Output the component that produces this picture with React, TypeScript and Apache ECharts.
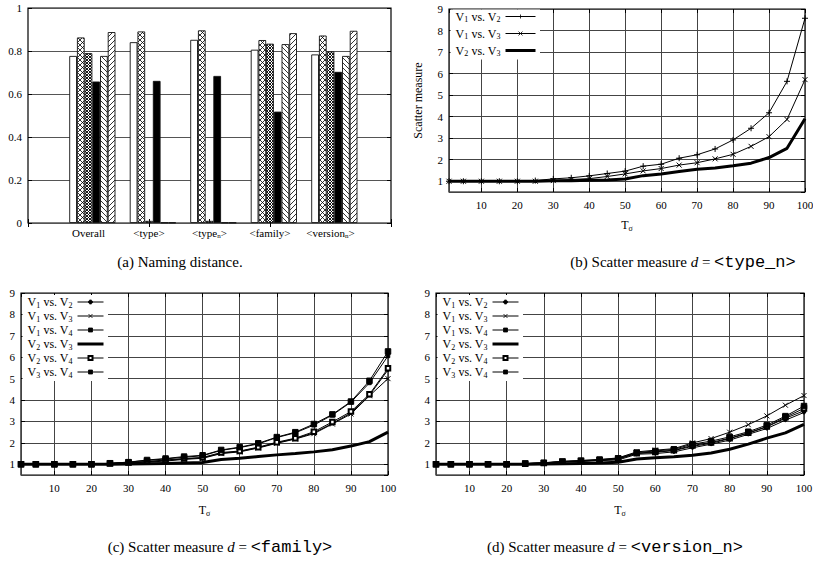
import React, { useEffect, useRef } from 'react';
import * as echarts from 'echarts';

// ---------- data: (a) naming distance ----------
const BAR_CATEGORIES = ['', 'Overall', '<type>', '<type_n>', '<family>', '<version_n>', ''];
const BAR_PLAIN = [null, 0.777, 0.841, 0.852, 0.806, 0.784, null];
const BAR_CROSS = [null, 0.863, 0.891, 0.896, 0.851, 0.872, null];
const BAR_DENSE = [null, 0.79, 0.01, 0.01, 0.834, 0.798, null];
const BAR_SOLID = [null, 0.658, 0.661, 0.684, 0.518, 0.703, null];
const BAR_BACK = [null, 0.777, 0.002, 0.002, 0.832, 0.777, null];
const BAR_FWD = [null, 0.888, 0.002, 0.002, 0.883, 0.894, null];

// ---------- data: scatter measures ----------
const XS = [1, 5, 10, 15, 20, 25, 30, 35, 40, 45, 50, 55, 60, 65, 70, 75, 80, 85, 90, 95, 100];

const B_V1V2 = [1, 1, 1, 1, 1, 1.03, 1.11, 1.16, 1.25, 1.36, 1.47, 1.7, 1.79, 2.07, 2.23, 2.5, 2.92, 3.46, 4.18, 5.64, 8.57];
const B_V1V3 = [1, 1, 1, 1, 1, 1.0, 1.03, 1.08, 1.12, 1.22, 1.34, 1.48, 1.59, 1.75, 1.86, 2.04, 2.25, 2.62, 3.07, 3.87, 5.72];
const B_V2V3 = [1, 1, 1, 1, 1, 1, 1.02, 1.02, 1.05, 1.06, 1.1, 1.26, 1.34, 1.45, 1.56, 1.61, 1.72, 1.84, 2.1, 2.53, 3.9];

const C_V1V2 = [1, 1, 1, 1, 1, 1.03, 1.07, 1.12, 1.18, 1.25, 1.3, 1.52, 1.6, 1.78, 2.0, 2.2, 2.47, 2.91, 3.4, 4.22, 5.41];
const C_V1V3 = [1, 1, 1, 1, 1, 1.03, 1.06, 1.1, 1.15, 1.23, 1.28, 1.5, 1.58, 1.76, 1.98, 2.18, 2.43, 2.88, 3.35, 4.2, 5.0];
const C_V1V4 = [1, 1, 1, 1, 1, 1.04, 1.1, 1.18, 1.25, 1.33, 1.4, 1.65, 1.78, 1.95, 2.25, 2.47, 2.83, 3.3, 3.9, 4.8, 6.06];
const C_V2V3 = [1, 1, 1, 1, 1, 1, 1.01, 1.02, 1.04, 1.06, 1.08, 1.22, 1.28, 1.36, 1.44, 1.5, 1.58, 1.68, 1.85, 2.06, 2.5];
const C_V2V4 = [1, 1, 1, 1, 1, 1.04, 1.08, 1.13, 1.2, 1.27, 1.32, 1.55, 1.62, 1.8, 2.03, 2.22, 2.52, 2.98, 3.46, 4.27, 5.48];
const C_V3V4 = [1, 1, 1, 1, 1, 1.05, 1.1, 1.2, 1.27, 1.36, 1.42, 1.67, 1.8, 1.98, 2.27, 2.5, 2.88, 3.33, 3.93, 4.9, 6.27];

const D_V1V2 = [1, 1, 1, 1, 1, 1.03, 1.05, 1.1, 1.13, 1.17, 1.2, 1.47, 1.5, 1.58, 1.77, 1.94, 2.13, 2.4, 2.67, 3.06, 3.42];
const D_V1V3 = [1, 1, 1, 1, 1, 1.03, 1.07, 1.14, 1.18, 1.22, 1.3, 1.58, 1.66, 1.73, 2.0, 2.2, 2.5, 2.85, 3.26, 3.76, 4.21];
const D_V1V4 = [1, 1, 1, 1, 1, 1.03, 1.06, 1.12, 1.15, 1.2, 1.25, 1.5, 1.56, 1.64, 1.84, 1.98, 2.2, 2.45, 2.75, 3.15, 3.5];
const D_V2V3 = [1, 1, 1, 1, 1, 1, 1.01, 1.02, 1.04, 1.06, 1.1, 1.25, 1.3, 1.35, 1.42, 1.53, 1.7, 1.94, 2.22, 2.47, 2.86];
const D_V2V4 = [1, 1, 1, 1, 1, 1.03, 1.06, 1.12, 1.15, 1.2, 1.25, 1.52, 1.58, 1.66, 1.88, 2.02, 2.22, 2.47, 2.76, 3.2, 3.61];
const D_V3V4 = [1, 1, 1, 1, 1, 1.04, 1.07, 1.13, 1.17, 1.22, 1.28, 1.55, 1.62, 1.7, 1.94, 2.08, 2.28, 2.52, 2.83, 3.25, 3.72];

const PAIRS_B = ['V1 vs. V2', 'V1 vs. V3', 'V2 vs. V3'];
const PAIRS_CD = ['V1 vs. V2', 'V1 vs. V3', 'V1 vs. V4', 'V2 vs. V3', 'V2 vs. V4', 'V3 vs. V4'];

const CAPTIONS = [
  '{t|(a) Naming distance.}',
  '{t|(b) Scatter measure }{i|d}{t| = }{m|<type_n>}',
  '{t|(c) Scatter measure }{i|d}{t| = }{m|<family>}',
  '{t|(d) Scatter measure }{i|d}{t| = }{m|<version_n>}',
];

const SERIF = "'Liberation Serif', 'Times New Roman', serif";
const MONO = "'Liberation Mono', 'DejaVu Sans Mono', monospace";
const BLACK = '#000';
const THICK_PAIR = 'V2 vs. V3';

const SYMBOLS: Record<string, { symbol: string; size: number }> = {
  plus: { symbol: 'path://M0,5L10,5M5,0L5,10', size: 6 },
  cross: { symbol: 'path://M0,0L10,10M10,0L0,10', size: 5 },
  dot: { symbol: 'circle', size: 3 },
  smallsq: { symbol: 'rect', size: 3.5 },
  opensq: { symbol: 'emptyRect', size: 4.5 },
  bigsq: { symbol: 'rect', size: 5.5 },
  none: { symbol: 'path://M0,0L10,10', size: 0 },
};

function makeHatch(kind: string) {
  const s = kind === 'dense' ? 3 : 5;
  const c = document.createElement('canvas');
  c.width = s;
  c.height = s;
  const g = c.getContext('2d') as CanvasRenderingContext2D;
  g.fillStyle = '#fff';
  g.fillRect(0, 0, s, s);
  g.strokeStyle = '#000';
  g.lineWidth = kind === 'dense' ? 0.9 : 0.8;
  g.beginPath();
  const back = () => {
    g.moveTo(-1, -1); g.lineTo(s + 1, s + 1);
    g.moveTo(-1, s - 1); g.lineTo(1, s + 1);
    g.moveTo(s - 1, -1); g.lineTo(s + 1, 1);
  };
  const fwd = () => {
    g.moveTo(-1, s + 1); g.lineTo(s + 1, -1);
    g.moveTo(-1, 1); g.lineTo(1, -1);
    g.moveTo(s - 1, s + 1); g.lineTo(s + 1, s - 1);
  };
  if (kind === 'cross' || kind === 'dense') { back(); fwd(); }
  if (kind === 'back') back();
  if (kind === 'fwd') fwd();
  g.stroke();
  return { image: c, repeat: 'repeat', imageWidth: s, imageHeight: s };
}

const subStyle = (size: number, pad: number) => ({ fontSize: size, fontFamily: SERIF, color: BLACK, padding: [pad, 0, 0, 0] });

function valueXAxis(gridIndex: number, top: boolean, nameGap: number) {
  return {
    type: 'value', gridIndex, min: 1, max: 100, minInterval: 10, maxInterval: 10,
    position: top ? 'top' : 'bottom',
    axisLine: { show: false },
    axisTick: { show: true, inside: true, length: 4, lineStyle: { color: BLACK, width: 1 } },
    axisLabel: top ? { show: false } : { color: BLACK, fontFamily: SERIF, fontSize: 11, margin: 7, showMinLabel: false, showMaxLabel: true },
    splitLine: top ? { show: false } : { show: true, lineStyle: { color: '#444', width: 1 } },
    name: top ? '' : 'T{s|σ}',
    nameLocation: 'middle',
    nameGap,
    nameTextStyle: { color: BLACK, fontFamily: SERIF, fontSize: 12, rich: { s: subStyle(8, 6) } },
  };
}

function valueYAxis(gridIndex: number, right: boolean, name?: string) {
  return {
    type: 'value', gridIndex, min: 0.5, max: 9, minInterval: 1, maxInterval: 1,
    position: right ? 'right' : 'left',
    axisLine: { show: false },
    axisTick: { show: true, inside: true, length: 4, lineStyle: { color: BLACK, width: 1 } },
    axisLabel: right ? { show: false } : { color: BLACK, fontFamily: SERIF, fontSize: 11, margin: 6, showMinLabel: false },
    splitLine: right ? { show: false } : { show: true, lineStyle: { color: '#444', width: 1 } },
    name: name || '',
    nameLocation: 'middle',
    nameGap: 25,
    nameTextStyle: { color: BLACK, fontFamily: SERIF, fontSize: 12 },
  };
}

function lineSeries(prefix: string, pair: string, values: number[], marker: string, axisIndex: number) {
  const sym = SYMBOLS[marker];
  const thick = marker === 'none';
  return {
    type: 'line',
    name: prefix + pair,
    xAxisIndex: axisIndex,
    yAxisIndex: axisIndex,
    data: XS.map((x, i) => [x, values[i]]),
    symbol: sym.symbol,
    symbolSize: sym.size,
    showSymbol: !thick,
    lineStyle: { color: BLACK, width: thick ? 3 : 1 },
    itemStyle: { color: BLACK, borderColor: BLACK, borderWidth: thick ? 0 : 1, opacity: thick ? 0 : 1 },
    z: thick ? 3 : 4,
  };
}

function legendFor(prefix: string, pairs: string[], left: number, top: number, itemGap: number, itemWidth: number) {
  return {
    data: pairs.map((p) => ({
      name: prefix + p,
      lineStyle: { width: p === THICK_PAIR ? 3 : 1, color: BLACK },
    })),
    orient: 'vertical',
    align: 'right',
    left, top,
    itemWidth,
    itemHeight: 5,
    itemGap,
    padding: [0, 3, 2, 5],
    backgroundColor: '#fff',
    selectedMode: false,
    itemStyle: { borderWidth: 0.8 },
    formatter: (n: string) => n.replace(/^\(\w\) /, '').replace(/V(\d)/g, 'V{s|$1}'),
    textStyle: { color: BLACK, fontFamily: SERIF, fontSize: 12, lineHeight: 13, rich: { s: { ...subStyle(8, 6), lineHeight: 13 } } },
  };
}

export default function App() {
  const ref = useRef<HTMLDivElement>(null);
  useEffect(() => {
    if (!ref.current) return;
    const chart = echarts.init(ref.current, undefined, { renderer: 'svg' });

    const barDefs = [
      { data: BAR_PLAIN, fill: '#fff' as any },
      { data: BAR_CROSS, fill: makeHatch('cross') },
      { data: BAR_DENSE, fill: makeHatch('dense') },
      { data: BAR_SOLID, fill: '#000' },
      { data: BAR_BACK, fill: makeHatch('back') },
      { data: BAR_FWD, fill: makeHatch('fwd') },
    ];
    const barSeries: any[] = [
      { type: 'bar', xAxisIndex: 0, yAxisIndex: 0, data: BAR_CATEGORIES.map(() => null), barWidth: 7.7, barGap: '0%', silent: true },
      ...barDefs.map((b, i) => ({
        type: 'bar', name: 'bar' + i, xAxisIndex: 0, yAxisIndex: 0, data: b.data,
        barWidth: 7.7, barGap: '0%',
        itemStyle: { color: b.fill, borderColor: '#111', borderWidth: 0.9 },
      })),
    ];

    const bMarkers = ['plus', 'cross', 'none'];
    const cdMarkers = ['dot', 'cross', 'smallsq', 'none', 'opensq', 'bigsq'];
    const bVals = [B_V1V2, B_V1V3, B_V2V3];
    const cVals = [C_V1V2, C_V1V3, C_V1V4, C_V2V3, C_V2V4, C_V3V4];
    const dVals = [D_V1V2, D_V1V3, D_V1V4, D_V2V3, D_V2V4, D_V3V4];

    const lines: any[] = [
      ...PAIRS_B.map((p, i) => lineSeries('(b) ', p, bVals[i], bMarkers[i], 2)),
      ...PAIRS_CD.map((p, i) => lineSeries('(c) ', p, cVals[i], cdMarkers[i], 4)),
      ...PAIRS_CD.map((p, i) => lineSeries('(d) ', p, dVals[i], cdMarkers[i], 6)),
    ];

    const gridBase = { show: true, borderColor: BLACK, borderWidth: 1.2, backgroundColor: 'transparent', containLabel: false, outerBoundsMode: 'none' };

    const captionPos = [[180, 262], [683, 262], [220, 547], [615, 547]];

    const option: any = {
      animation: false,
      backgroundColor: '#fff',
      grid: [
        { ...gridBase, left: 28, top: 8, width: 363, height: 215 },
        { ...gridBase, left: 449, top: 9, width: 356, height: 183 },
        { ...gridBase, left: 21, top: 293, width: 367, height: 182 },
        { ...gridBase, left: 436, top: 293, width: 368, height: 182 },
      ],
      xAxis: [
        {
          type: 'category', gridIndex: 0, data: BAR_CATEGORIES, boundaryGap: false, position: 'bottom',
          axisLine: { show: false },
          axisTick: { show: true, inside: true, length: 4, lineStyle: { color: BLACK } },
          axisLabel: {
            color: BLACK, fontFamily: SERIF, fontSize: 11, margin: 4, interval: 0,
            formatter: (v: string) => v.replace('_n', '{s|n}'),
            rich: { s: subStyle(7, 5) },
          },
          splitLine: { show: false },
        },
        {
          type: 'category', gridIndex: 0, data: BAR_CATEGORIES, boundaryGap: false, position: 'top',
          axisLine: { show: false },
          axisTick: { show: true, inside: true, length: 4, lineStyle: { color: BLACK } },
          axisLabel: { show: false }, splitLine: { show: false },
        },
        valueXAxis(1, false, 26), valueXAxis(1, true, 26),
        valueXAxis(2, false, 28), valueXAxis(2, true, 28),
        valueXAxis(3, false, 28), valueXAxis(3, true, 28),
      ],
      yAxis: [
        {
          type: 'value', gridIndex: 0, min: 0, max: 1, interval: 0.2, position: 'left',
          axisLine: { show: false },
          axisTick: { show: true, inside: true, length: 4, lineStyle: { color: BLACK } },
          axisLabel: { color: BLACK, fontFamily: SERIF, fontSize: 11, margin: 6 },
          splitLine: { show: true, lineStyle: { color: '#555', width: 1 } },
        },
        {
          type: 'value', gridIndex: 0, min: 0, max: 1, interval: 0.2, position: 'right',
          axisLine: { show: false },
          axisTick: { show: true, inside: true, length: 4, lineStyle: { color: BLACK } },
          axisLabel: { show: false }, splitLine: { show: false },
        },
        valueYAxis(1, false, 'Scatter measure'), valueYAxis(1, true),
        valueYAxis(2, false), valueYAxis(2, true),
        valueYAxis(3, false), valueYAxis(3, true),
      ],
      legend: [
        legendFor('(b) ', PAIRS_B, 450.5, 9.5, 3, 30),
        legendFor('(c) ', PAIRS_CD, 22.5, 295, 0, 26),
        legendFor('(d) ', PAIRS_CD, 437.5, 295, 0, 26),
      ],
      graphic: CAPTIONS.map((text, i) => ({
        type: 'text',
        x: captionPos[i][0],
        y: captionPos[i][1],
        style: {
          text,
          align: 'center', verticalAlign: 'middle',
          textAlign: 'center', textVerticalAlign: 'middle',
          fill: BLACK,
          rich: {
            t: { fontFamily: SERIF, fontSize: 15, color: BLACK },
            i: { fontFamily: SERIF, fontSize: 15, fontStyle: 'italic', color: BLACK },
            m: { fontFamily: MONO, fontSize: 17, color: BLACK },
          },
        },
      })),
      series: [...barSeries, ...lines],
    };
    chart.setOption(option);
    return () => chart.dispose();
  }, []);

  return <div ref={ref} style={{ position: 'fixed', left: 0, top: 0, width: 813, height: 565, background: '#fff' }} />;
}
